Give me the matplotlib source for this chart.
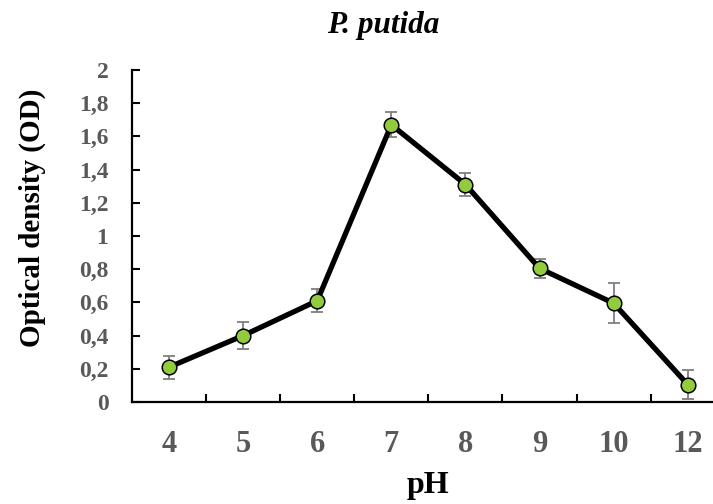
import numpy as np
import matplotlib
matplotlib.use("Agg")
import matplotlib.pyplot as plt
from matplotlib.ticker import FixedLocator, FuncFormatter

# data
ph_labels = ["4", "5", "6", "7", "8", "9", "10", "12"]
od_values = [0.21, 0.40, 0.61, 1.67, 1.31, 0.805, 0.595, 0.105]
od_errors = [0.07, 0.08, 0.07, 0.075, 0.07, 0.057, 0.12, 0.085]
y_ticks = [0, 0.2, 0.4, 0.6, 0.8, 1.0, 1.2, 1.4, 1.6, 1.8, 2.0]

plt.rcParams['font.family'] = ['Liberation Serif', 'DejaVu Serif']

W, H = 713, 504
fig = plt.figure(figsize=(W / 100, H / 100), dpi=100)
# plot area: left spine at x=132 px, bottom at y=402 px, top (2.0) at y=70 px
ax = fig.add_axes([132 / W, 1 - 402 / H, 1 - 132 / W, (402 - 70) / H])

x = np.arange(len(ph_labels))
ax.errorbar(x, od_values, yerr=od_errors, fmt='none', ecolor='#7f7f7f',
            elinewidth=1.3, capsize=4.5, capthick=1.3, zorder=2)
ax.plot(x, od_values, color='black', linewidth=3.8, zorder=3)
ax.plot(x, od_values, linestyle='none', marker='o', markersize=10.5,
        markerfacecolor='#92CC3C', markeredgecolor='black',
        markeredgewidth=1.1, zorder=4)

ax.set_xlim(-0.5, -0.5 + (W - 132) / 74.1)
ax.set_ylim(0, 2)

for side in ['top', 'right']:
    ax.spines[side].set_visible(False)
for side in ['left', 'bottom']:
    ax.spines[side].set_linewidth(1.6)

ax.set_xticks(x)
ax.set_xticklabels(ph_labels)
ax.xaxis.set_minor_locator(FixedLocator(x[:-1] + 0.5))
ax.tick_params(axis='x', which='major', length=0, pad=20, labelsize=22,
               labelcolor='#595959')
ax.tick_params(axis='x', which='minor', direction='in', length=6, width=1.5)

ax.set_yticks(y_ticks)
ax.yaxis.set_major_formatter(FuncFormatter(lambda v, p: f"{v:g}".replace('.', ',')))
ax.tick_params(axis='y', direction='in', length=6, width=1.5, pad=17,
               labelsize=17, labelcolor='#595959')
for lab in ax.get_xticklabels() + ax.get_yticklabels():
    lab.set_fontweight('bold')

fig.text(428 / W, 1 - 485 / H, 'pH', ha='center', va='center',
         fontsize=23, fontweight='bold')
fig.text(32 / W, 1 - 218 / H, 'Optical density (OD)', ha='center', va='center',
         rotation=90, fontsize=21, fontweight='bold')
fig.text(383 / W, 1 - 25 / H, 'P. putida', ha='center', va='center',
         fontsize=22.5, fontweight='bold', fontstyle='italic')

fig.savefig('out.png', dpi=100)
